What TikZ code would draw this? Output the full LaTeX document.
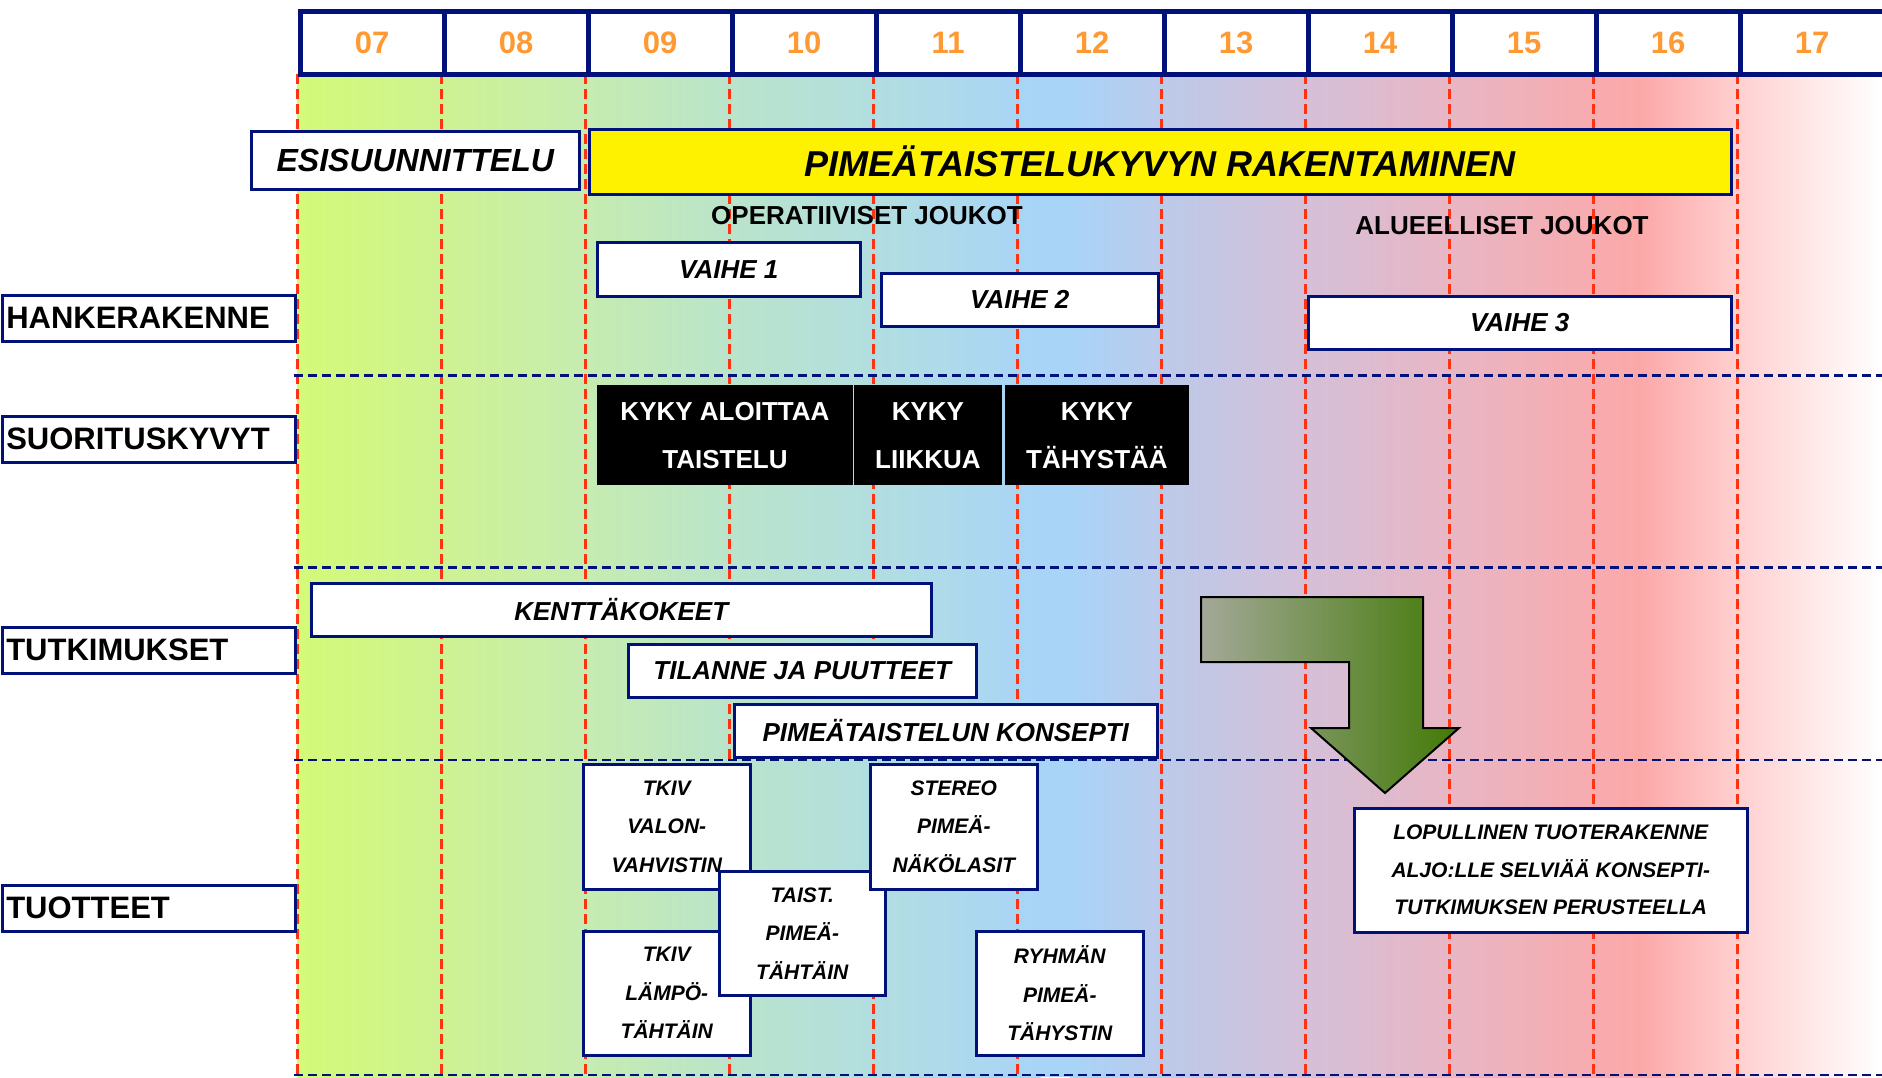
\documentclass[tikz,border=0pt]{standalone}
\usepackage{fontspec}
\setmainfont{Liberation Sans}
\newcommand\fsz[2]{\fontsize{#1}{#2}\selectfont}
\definecolor{navy}{RGB}{0,18,122}
\definecolor{hdrorange}{RGB}{255,153,51}
\definecolor{gridred}{RGB}{255,51,17}
\definecolor{arrgray}{RGB}{164,168,152}
\definecolor{arrgreen}{RGB}{66,122,6}
\definecolor{gA}{HTML}{D4FA78}
\definecolor{gB}{HTML}{CEF292}
\definecolor{gC}{HTML}{C6ECB0}
\definecolor{gD}{HTML}{BAE4CA}
\definecolor{gE}{HTML}{B2DEE0}
\definecolor{gF}{HTML}{A8D4F8}
\definecolor{gG}{HTML}{BCCAEA}
\definecolor{gH}{HTML}{D4C0D8}
\definecolor{gI}{HTML}{E8B6C4}
\definecolor{gJ}{HTML}{FCA8A8}
\definecolor{gK}{HTML}{FFD0D0}
\definecolor{gL}{HTML}{FFFFFF}
\begin{document}
\begin{tikzpicture}[x=1pt,y=-1pt,
  cell/.style={draw=navy, line width=5pt, fill=white, anchor=north west, inner sep=0pt,
    minimum width=144pt, minimum height=63pt, text=hdrorange, font=\fsz{31}{36}\bfseries},
  lab/.style={draw=navy, line width=2.5pt, fill=white, anchor=north west, inner xsep=4pt,
    inner ysep=0pt, text width=285pt, minimum height=46pt, align=left, font=\fsz{31}{36}\bfseries},
  wbox/.style={draw=navy, line width=2.5pt, fill=white, anchor=north west, inner sep=0pt,
    align=center, font=\fsz{26}{30}\bfseries\itshape},
  pbox/.style={wbox, minimum width=167pt, minimum height=125pt, font=\fsz{21}{38.5}\bfseries\itshape},
  kbox/.style={fill=black, text=white, anchor=north west, inner sep=0pt, align=center,
    minimum height=100pt, font=\fsz{26}{48}\bfseries},
  plain/.style={inner sep=0pt, font=\fsz{26}{30}\bfseries},
  reddash/.style={draw=gridred, line width=2.5pt, dash pattern=on 10pt off 5pt},
  navydash/.style={draw=navy, line width=2.5pt, dash pattern=on 9pt off 5pt}]
\useasboundingbox (0,0) rectangle (1882,1077);
\fill[white] (0,0) rectangle (1882,1077);
% background gradient
\fill[left color=gA, right color=gB] (297.6,72) rectangle (442,1077);
\fill[left color=gB, right color=gC] (441.6,72) rectangle (586,1077);
\fill[left color=gC, right color=gD] (585.6,72) rectangle (730,1077);
\fill[left color=gD, right color=gE] (729.6,72) rectangle (874,1077);
\fill[left color=gE, right color=gF] (873.6,72) rectangle (1040.5,1077);
\fill[gF] (1040,72) rectangle (1070.5,1077);
\fill[left color=gF, right color=gG] (1070,72) rectangle (1162,1077);
\fill[left color=gG, right color=gH] (1161.6,72) rectangle (1306,1077);
\fill[left color=gH, right color=gI] (1305.6,72) rectangle (1450,1077);
\fill[left color=gI, right color=gJ] (1449.6,72) rectangle (1640.5,1077);
\fill[left color=gJ, right color=gK] (1640,72) rectangle (1738,1077);
\fill[left color=gK, right color=gL] (1737.6,72) rectangle (1882,1077);
% red dashed column lines
\foreach \i in {0,...,10} {
  \coordinate (ct\i) at ({297.6+144*\i},74);
  \coordinate (cb\i) at ({297.6+144*\i},1075);
  \draw[reddash] (ct\i) -- (cb\i);
}
% navy dashed row lines
\foreach \j/\yy in {1/375.6,2/567.6,3/760,4/1075} {
  \coordinate (rl\j) at (294,\yy);
  \coordinate (rr\j) at (1882,\yy);
  \draw[navydash] (rl\j) -- (rr\j);
}
% header
\foreach \i/\lab in {0/07,1/08,2/09,3/10,4/11,5/12,6/13,7/14,8/15,9/16,10/17}
  \node[cell] (h\lab) at ({297.6+144*\i},9) {\lab};
% row labels
\node[lab] (lab1) at (1,294) {HANKERAKENNE};
\node[lab] (lab2) at (1,415) {SUORITUSKYVYT};
\node[lab] (lab3) at (1,626) {TUTKIMUKSET};
\node[lab] (lab4) at (1,884) {TUOTTEET};
% top row
\node[wbox, minimum width=328pt, minimum height=58pt, font=\fsz{32}{36}\bfseries\itshape] (esi) at (250,130) {ESISUUNNITTELU};
\node[wbox, fill=yellow, minimum width=1142pt, minimum height=65pt, font=\fsz{36}{40}\bfseries\itshape] (pime) at (588,128) {PIMEÄTAISTELUKYVYN RAKENTAMINEN};
\node[plain] (oper) at (867,216) {OPERATIIVISET JOUKOT};
\node[plain] (alue) at (1502,226) {ALUEELLISET JOUKOT};
% phases
\node[wbox, minimum width=263pt, minimum height=54pt] (v1) at (596,241) {VAIHE 1};
\node[wbox, minimum width=277pt, minimum height=53pt] (v2) at (880,272) {VAIHE 2};
\node[wbox, minimum width=423pt, minimum height=53pt] (v3) at (1307,295) {VAIHE 3};
% capabilities
\node[kbox, minimum width=255.5pt] (k1) at (597,385) {KYKY ALOITTAA\\TAISTELU};
\node[kbox, minimum width=148.5pt] (k2) at (853.5,385) {KYKY\\LIIKKUA};
\node[kbox, minimum width=183.5pt] (k3) at (1005,385) {KYKY\\TÄHYSTÄÄ};
% studies
\node[wbox, minimum width=620pt, minimum height=53pt] (t1) at (310,582) {KENTTÄKOKEET};
\node[wbox, minimum width=348pt, minimum height=53pt] (t2) at (627,643) {TILANNE JA PUUTTEET};
\node[wbox, minimum width=423pt, minimum height=53pt] (t3) at (733,703) {PIMEÄTAISTELUN KONSEPTI};
% products
\node[pbox] (p1) at (582,763) {TKIV\\VALON-\\VAHVISTIN};
\node[pbox, minimum height=124pt] (p2) at (582,930) {TKIV\\LÄMPÖ-\\TÄHTÄIN};
\node[pbox, minimum width=166pt, minimum height=124pt] (p3) at (718,870) {TAIST.\\PIMEÄ-\\TÄHTÄIN};
\node[pbox] (p4) at (869,763) {STEREO\\PIMEÄ-\\NÄKÖLASIT};
\node[pbox, minimum height=124pt] (p5) at (975,930) {RYHMÄN\\PIMEÄ-\\TÄHYSTIN};
\node[wbox, minimum width=393pt, minimum height=124pt, font=\fsz{21}{37.5}\bfseries\itshape] (lop) at (1353,807) {LOPULLINEN TUOTERAKENNE\\ALJO:LLE SELVIÄÄ KONSEPTI-\\TUTKIMUKSEN PERUSTEELLA};
% bent arrow
\path[draw=black, line width=2pt, line join=miter, left color=arrgray, right color=arrgreen]
  (1201,597) -- (1423,597) -- (1423,728) -- (1459,728) -- (1385,793) -- (1311,728)
  -- (1349,728) -- (1349,662) -- (1201,662) -- cycle;
\end{tikzpicture}
\end{document}
